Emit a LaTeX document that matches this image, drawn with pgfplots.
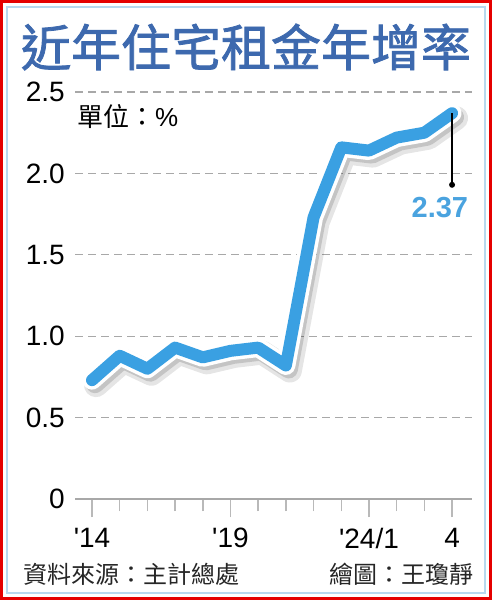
\documentclass[border=0pt]{standalone}
\usepackage{fontspec}
\usepackage{pgfplots}
\pgfplotsset{compat=1.18}
\setmainfont{Liberation Sans}
\newfontfamily\numf{Liberation Sans}
\newfontfamily\cjk{Noto Sans CJK TC}
\newfontfamily\cjkt[FakeBold=1.6]{Noto Sans CJK TC}
\definecolor{titleblue}{HTML}{3D69AE}
\definecolor{lineblue}{HTML}{3AA0E2}
\definecolor{numblue}{HTML}{4AA3DF}
\definecolor{framebl}{HTML}{B8D8EE}
\definecolor{gridgray}{HTML}{A8A8A8}
\tikzset{ylab/.style={anchor=east, inner sep=0pt, font=\numf\fontsize{28}{28}\selectfont}}
\begin{document}
\begin{tikzpicture}[x=1pt,y=1pt]
\useasboundingbox (0,0) rectangle (492,600);
\fill[white] (0,0) rectangle (492,600);
\draw[red!90!black, line width=3pt] (1.5,1.5) rectangle (490.5,598.5);
\draw[framebl, line width=1.5pt] (7,7) rectangle (485,593);
\node[text=titleblue, font=\cjkt\fontsize{50}{50}\selectfont, inner sep=0pt] at (246,553) {近年住宅租金年增率};
\node[anchor=west, font=\cjk\fontsize{26}{26}\selectfont, inner sep=0pt] at (77,483) {單位：\numf\%};
\node[anchor=west, font=\cjk\fontsize{24}{24}\selectfont, inner sep=0pt, text=black!85] at (23,26) {資料來源：主計總處};
\node[anchor=east, font=\cjk\fontsize{24}{24}\selectfont, inner sep=0pt, text=black!85] at (474,26) {繪圖：王瓊靜};
\begin{axis}[
  at={(75pt,101pt)}, anchor=south west,
  width=397pt, height=407pt, scale only axis,
  xmin=-0.614, xmax=13.72, ymin=0, ymax=2.5,
  clip=false,
  axis x line*=bottom, axis y line*=left,
  y axis line style={draw=none},
  x axis line style={gridgray, line width=1.5pt, -},
  ytick={0,0.5,1,1.5,2,2.5},
  yticklabels={,,,,,},
  ymajorgrids,
  major grid style={gridgray, line width=1.2pt, dash pattern=on 8pt off 5pt},
  ytick style={draw=none},
  xtick={0,5,10,13},
  xticklabels={{\numf\symbol{39}14},{\numf\symbol{39}19},{\numf\symbol{39}24/1},{\numf 4}},
  minor xtick={1,2,3,4,6,7,8,9,11,12},
  tick align=outside, xtick pos=bottom,
  major tick length=18pt, minor tick length=12pt,
  xtick style={gridgray!80, line width=1.5pt},
  xticklabel style={font=\numf\fontsize{28}{28}\selectfont, anchor=north, inner sep=0pt, yshift=-11pt},
]
\addplot[black, opacity=0.10, line width=24pt, line join=round, line cap=round, transform canvas={shift={(4pt,-5pt)}}] coordinates {
(0,0.73)(1,0.88)(2,0.80)(3,0.93)(4,0.87)(5,0.91)(6,0.93)(7,0.82)(8,1.73)(9,2.16)(10,2.14)(11,2.22)(12,2.25)(13,2.37)};
\addplot[black, opacity=0.14, line width=18pt, line join=round, line cap=round, transform canvas={shift={(3pt,-4pt)}}] coordinates {
(0,0.73)(1,0.88)(2,0.80)(3,0.93)(4,0.87)(5,0.91)(6,0.93)(7,0.82)(8,1.73)(9,2.16)(10,2.14)(11,2.22)(12,2.25)(13,2.37)};
\addplot[white, line width=19pt, line join=round, line cap=round] coordinates {
(0,0.73)(1,0.88)(2,0.80)(3,0.93)(4,0.87)(5,0.91)(6,0.93)(7,0.82)(8,1.73)(9,2.16)(10,2.14)(11,2.22)(12,2.25)(13,2.37)};
\addplot[lineblue, line width=12pt, line join=round, line cap=round] coordinates {
(0,0.73)(1,0.88)(2,0.80)(3,0.93)(4,0.87)(5,0.91)(6,0.93)(7,0.82)(8,1.73)(9,2.16)(10,2.14)(11,2.22)(12,2.25)(13,2.37)};
\node[ylab] at (axis cs:-0.975,0) {0};
\node[ylab] at (axis cs:-0.975,0.5) {0.5};
\node[ylab] at (axis cs:-0.975,1) {1.0};
\node[ylab] at (axis cs:-0.975,1.5) {1.5};
\node[ylab] at (axis cs:-0.975,2) {2.0};
\node[ylab] at (axis cs:-0.975,2.5) {2.5};
\draw[black, line width=1.2pt] (axis cs:13,2.37) -- (axis cs:13,1.93);
\fill[black] (axis cs:13,1.93) circle (3pt);
\node[text=numblue, font=\numf\bfseries\fontsize{29}{29}\selectfont, inner sep=0pt] at (axis cs:12.56,1.79) {2.37};
\end{axis}
\end{tikzpicture}
\end{document}
